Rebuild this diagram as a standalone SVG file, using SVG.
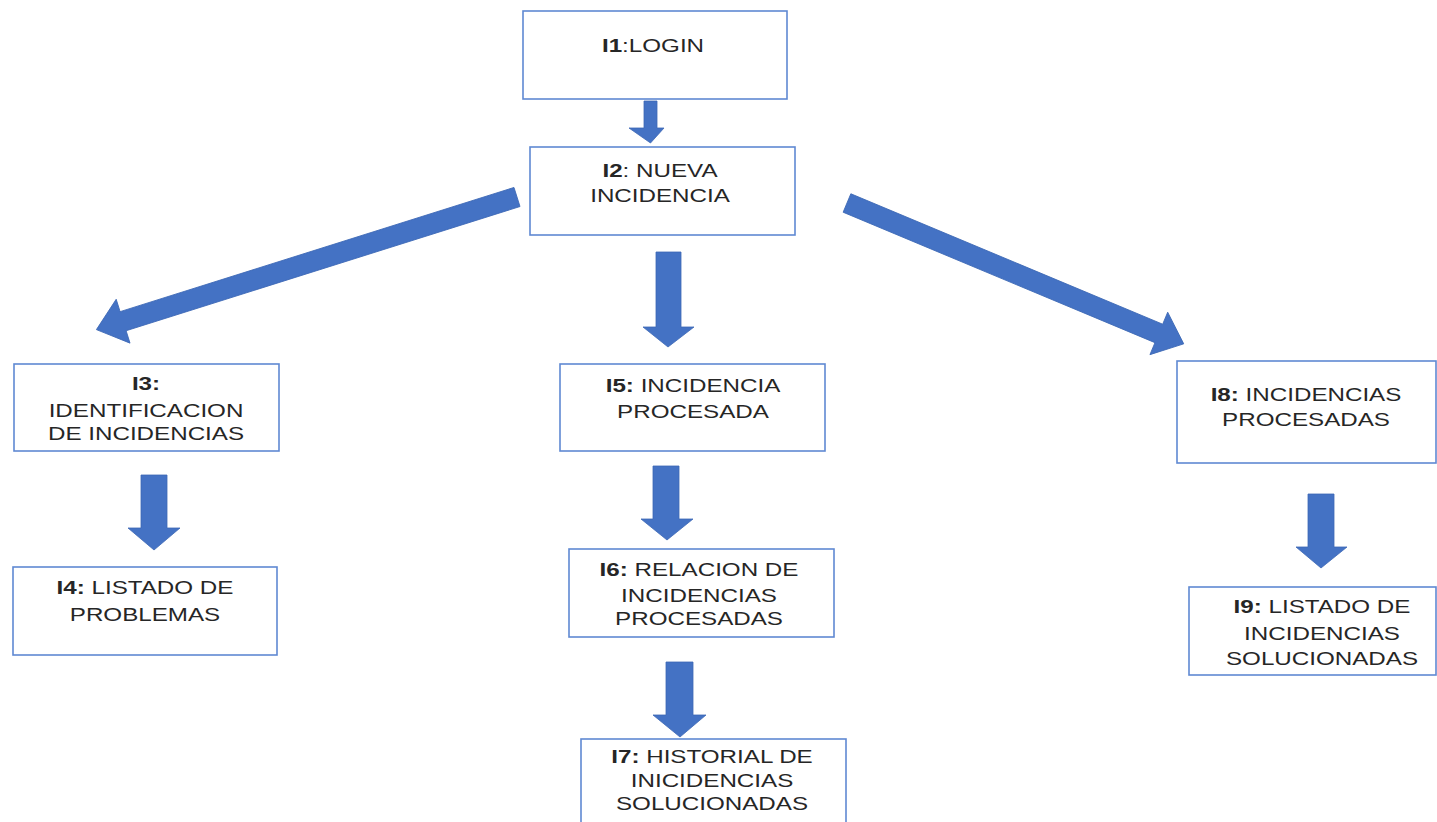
<svg xmlns="http://www.w3.org/2000/svg" width="1437" height="822" viewBox="0 0 1437 822">
  <style>
    .box { fill: #ffffff; stroke: #5f89d3; stroke-width: 1.6; }
    .arrow { fill: #4472c4; stroke: #3d68b5; stroke-width: 0.8; }
    .t { font-family: "Liberation Sans", Arial, sans-serif; font-size: 18.6px; fill: #262626; text-anchor: middle; }
    .b { font-weight: bold; }
  </style>
  <rect width="1437" height="822" fill="#ffffff"/>

  <!-- connectors: block arrows -->
  <g id="connectors">
    <polygon class="arrow" points="644,101 657,101 657,128 664,128 650.5,143 629,128 644,128"/>
    <polygon class="arrow" transform="translate(517 197) rotate(162.5)" points="0,-10 413,-10 413,-23 441,0 413,23 413,10 0,10"/>
    <polygon class="arrow" points="656,252 681,252 681,327 694,327 668,347 643,327 656,327"/>
    <polygon class="arrow" transform="translate(847 203) rotate(22.7)" points="0,-10 338,-10 338,-23 365,0 338,23 338,10 0,10"/>
    <polygon class="arrow" points="141,475 167,475 167,528 180,528 154,550 128,528 141,528"/>
    <polygon class="arrow" points="653,466 679,466 679,519 693,519 667,540 641,519 653,519"/>
    <polygon class="arrow" points="666,662 693,662 693,715 706,715 680,737 653,715 666,715"/>
    <polygon class="arrow" points="1308,494 1334,494 1334,547 1347,547 1321,568 1296,547 1308,547"/>
  </g>

  <g id="I1">
    <rect class="box" x="523" y="11" width="264" height="88"/>
    <g transform="translate(653 0) scale(1.3 1)">
      <text class="t" x="0" y="52"><tspan class="b">I1</tspan>:LOGIN</text>
    </g>
  </g>

  <g id="I2">
    <rect class="box" x="530" y="147" width="265" height="88"/>
    <g transform="translate(660 0) scale(1.3 1)">
      <text class="t" x="0" y="177"><tspan class="b">I2</tspan>: NUEVA</text>
      <text class="t" x="0" y="202">INCIDENCIA</text>
    </g>
  </g>

  <g id="I3">
    <rect class="box" x="14" y="364" width="265" height="87"/>
    <g transform="translate(146 0) scale(1.3 1)">
      <text class="t b" x="0" y="390">I3:</text>
      <text class="t" x="0" y="417">IDENTIFICACION</text>
      <text class="t" x="0" y="440">DE INCIDENCIAS</text>
    </g>
  </g>

  <g id="I4">
    <rect class="box" x="13" y="567" width="264" height="88"/>
    <g transform="translate(145 0) scale(1.3 1)">
      <text class="t" x="0" y="594"><tspan class="b">I4:</tspan> LISTADO DE</text>
      <text class="t" x="0" y="621">PROBLEMAS</text>
    </g>
  </g>

  <g id="I5">
    <rect class="box" x="560" y="364" width="265" height="87"/>
    <g transform="translate(693 0) scale(1.3 1)">
      <text class="t" x="0" y="392"><tspan class="b">I5:</tspan> INCIDENCIA</text>
      <text class="t" x="0" y="418">PROCESADA</text>
    </g>
  </g>

  <g id="I6">
    <rect class="box" x="569" y="549" width="265" height="88"/>
    <g transform="translate(699 0) scale(1.3 1)">
      <text class="t" x="0" y="576"><tspan class="b">I6:</tspan> RELACION DE</text>
      <text class="t" x="0" y="602">INCIDENCIAS</text>
      <text class="t" x="0" y="625">PROCESADAS</text>
    </g>
  </g>

  <g id="I7">
    <rect class="box" x="581" y="739" width="265" height="95"/>
    <g transform="translate(712 0) scale(1.3 1)">
      <text class="t" x="0" y="763"><tspan class="b">I7:</tspan> HISTORIAL DE</text>
      <text class="t" x="0" y="787">INICIDENCIAS</text>
      <text class="t" x="0" y="810">SOLUCIONADAS</text>
    </g>
  </g>

  <g id="I8">
    <rect class="box" x="1177" y="361" width="259" height="102"/>
    <g transform="translate(1306 0) scale(1.3 1)">
      <text class="t" x="0" y="401"><tspan class="b">I8:</tspan> INCIDENCIAS</text>
      <text class="t" x="0" y="426">PROCESADAS</text>
    </g>
  </g>

  <g id="I9">
    <rect class="box" x="1189" y="587" width="247" height="88"/>
    <g transform="translate(1322 0) scale(1.3 1)">
      <text class="t" x="0" y="613"><tspan class="b">I9:</tspan> LISTADO DE</text>
      <text class="t" x="0" y="640">INCIDENCIAS</text>
      <text class="t" x="0" y="665">SOLUCIONADAS</text>
    </g>
  </g>
</svg>
